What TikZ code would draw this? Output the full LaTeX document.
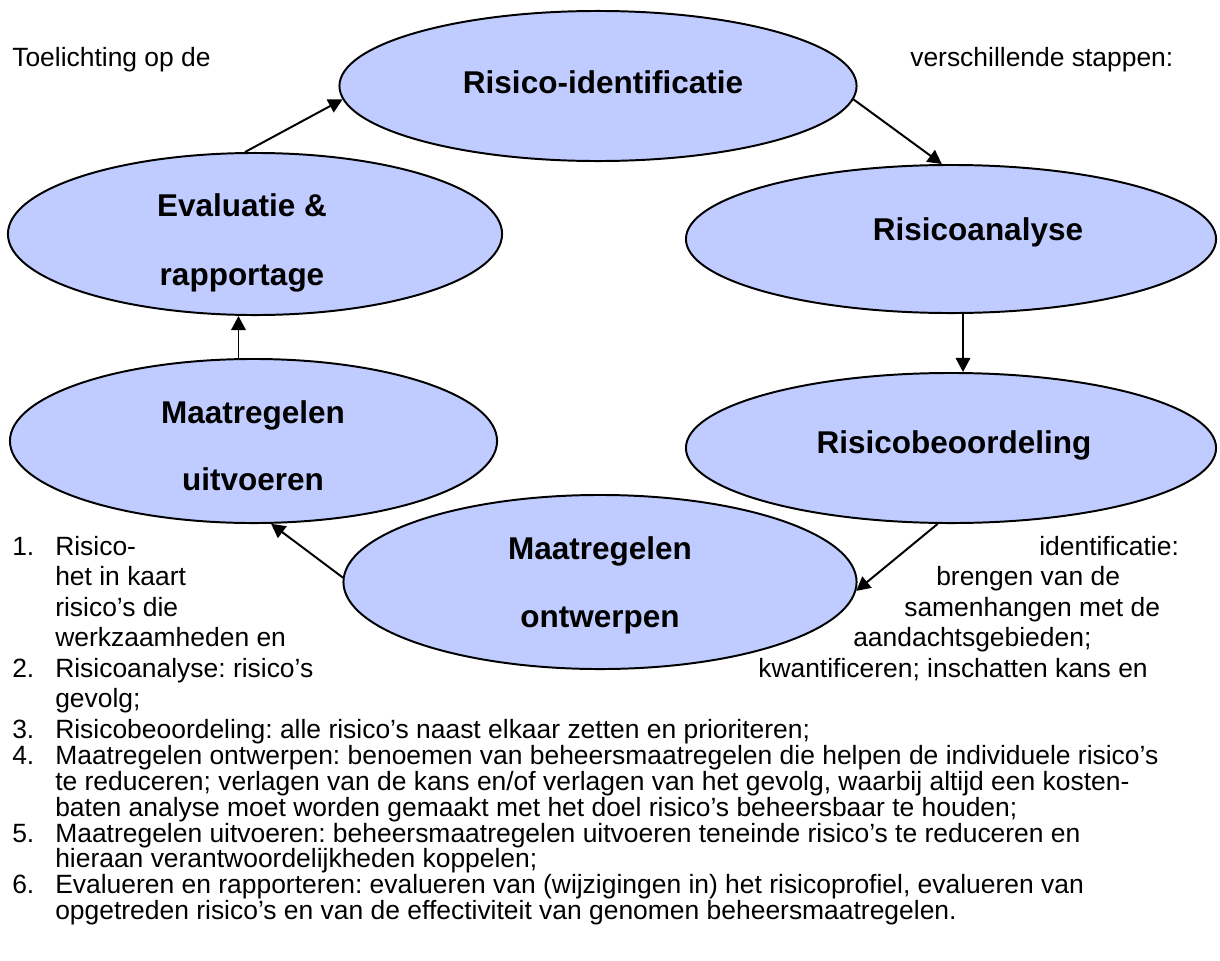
\documentclass[tikz,border=0pt]{standalone}
\usepackage{fontspec}
\setmainfont{Liberation Sans}
\usetikzlibrary{shapes.geometric,arrows.meta}
\definecolor{ellfill}{RGB}{192,204,255}
\frenchspacing
\begin{document}
\begin{tikzpicture}[x=0.025cm,y=-0.025cm,
  stepell/.style={ellipse, draw=black, line width=1.4pt, fill=ellfill, inner sep=0pt},
  elltext/.style={font=\fontsize{22.4}{26}\selectfont\bfseries, anchor=base, inner sep=0pt},
  bodytext/.style={font=\fontsize{18.8}{22}\selectfont, anchor=base west, inner sep=0pt},
  conn/.style={line width=1.4pt, -{Triangle[length=3.5mm,width=3.6mm]}}]
\useasboundingbox (0,0) rectangle (1220,960);

% ellipses
\node[stepell, minimum width=12.925cm, minimum height=3.75cm] (rid) at (598,86) {};
\node[stepell, minimum width=12.35cm, minimum height=4.05cm] (eval) at (255,234) {};
\node[stepell, minimum width=13.25cm, minimum height=3.7cm] (ana) at (951,239) {};
\node[stepell, minimum width=13.25cm, minimum height=3.75cm] (beo) at (951,448) {};
\node[stepell, minimum width=12.175cm, minimum height=4.1cm] (uitv) at (253.5,441) {};
\node[stepell, minimum width=12.825cm, minimum height=4.35cm] (ontw) at (600,582) {};

% ellipse texts
\node[elltext] (tRid) at (603,93) {Risico-identificatie};
\node[elltext] (tEval1) at (242,216) {Evaluatie \&};
\node[elltext] (tEval2) at (242,285) {rapportage};
\node[elltext] (tAna) at (978,240) {Risicoanalyse};
\node[elltext] (tBeo) at (954,453) {Risicobeoordeling};
\node[elltext] (tUitv1) at (253,423) {Maatregelen};
\node[elltext] (tUitv2) at (253,490) {uitvoeren};
\node[elltext] (tOntw1) at (600,559) {Maatregelen};
\node[elltext] (tOntw2) at (600,627) {ontwerpen};

% connectors
\draw[conn] (eval.97) -- (rid.183);
\draw[conn] (rid.-3) -- (ana.97);
\path ([xshift=0.3cm]ana.south) coordinate (a0);
\draw[conn] (a0) -- (a0 |- beo.north);
\draw[conn] (beo.-100) -- (ontw.-2);
\draw[conn] (ontw.179) -- (uitv.-78);
\path ([xshift=-0.375cm]uitv.north) coordinate (u0);
\draw[conn] (u0) -- (u0 |- eval.south);

% heading
\node[bodytext] (h1) at (12,66) {Toelichting op de};
\node[bodytext] (h2) at (910,66) {verschillende stappen:};

% upper list block
\node[bodytext] (n1) at (12,555) {1.};
\node[bodytext] (a1) at (55,555) {Risico-};
\node[bodytext] (b1) at (1039,555) {identificatie:};
\node[bodytext] (a2) at (55,585) {het in kaart};
\node[bodytext] (b2) at (936,585) {brengen van de};
\node[bodytext] (a3) at (55,616) {risico’s die};
\node[bodytext] (b3) at (904,616) {samenhangen met de};
\node[bodytext] (a4) at (55,646) {werkzaamheden en};
\node[bodytext] (b4) at (853,646) {aandachtsgebieden;};
\node[bodytext] (n2) at (12,677) {2.};
\node[bodytext] (a5) at (55,677) {Risicoanalyse: risico’s};
\node[bodytext] (b5) at (758,677) {kwantificeren; inschatten kans en};
\node[bodytext] (a6) at (55,707) {gevolg;};

% lower list block
\node[bodytext] (n3) at (12,738) {3.};
\node[bodytext] (l3) at (55,738) {Risicobeoordeling: alle risico’s naast elkaar zetten en prioriteren;};
\node[bodytext] (n4) at (12,764) {4.};
\node[bodytext] (l4a) at (55,764) {Maatregelen ontwerpen: benoemen van beheersmaatregelen die helpen de individuele risico’s};
\node[bodytext] (l4b) at (55,790) {te reduceren; verlagen van de kans en/of verlagen van het gevolg, waarbij altijd een kosten-};
\node[bodytext] (l4c) at (55,816) {baten analyse moet worden gemaakt met het doel risico’s beheersbaar te houden;};
\node[bodytext] (n5) at (12,842) {5.};
\node[bodytext] (l5a) at (55,842) {Maatregelen uitvoeren: beheersmaatregelen uitvoeren teneinde risico’s te reduceren en};
\node[bodytext] (l5b) at (55,867) {hieraan verantwoordelijkheden koppelen;};
\node[bodytext] (n6) at (12,893) {6.};
\node[bodytext] (l6a) at (55,893) {Evalueren en rapporteren: evalueren van (wijzigingen in) het risicoprofiel, evalueren van};
\node[bodytext] (l6b) at (55,919) {opgetreden risico’s en van de effectiviteit van genomen beheersmaatregelen.};
\end{tikzpicture}
\end{document}
